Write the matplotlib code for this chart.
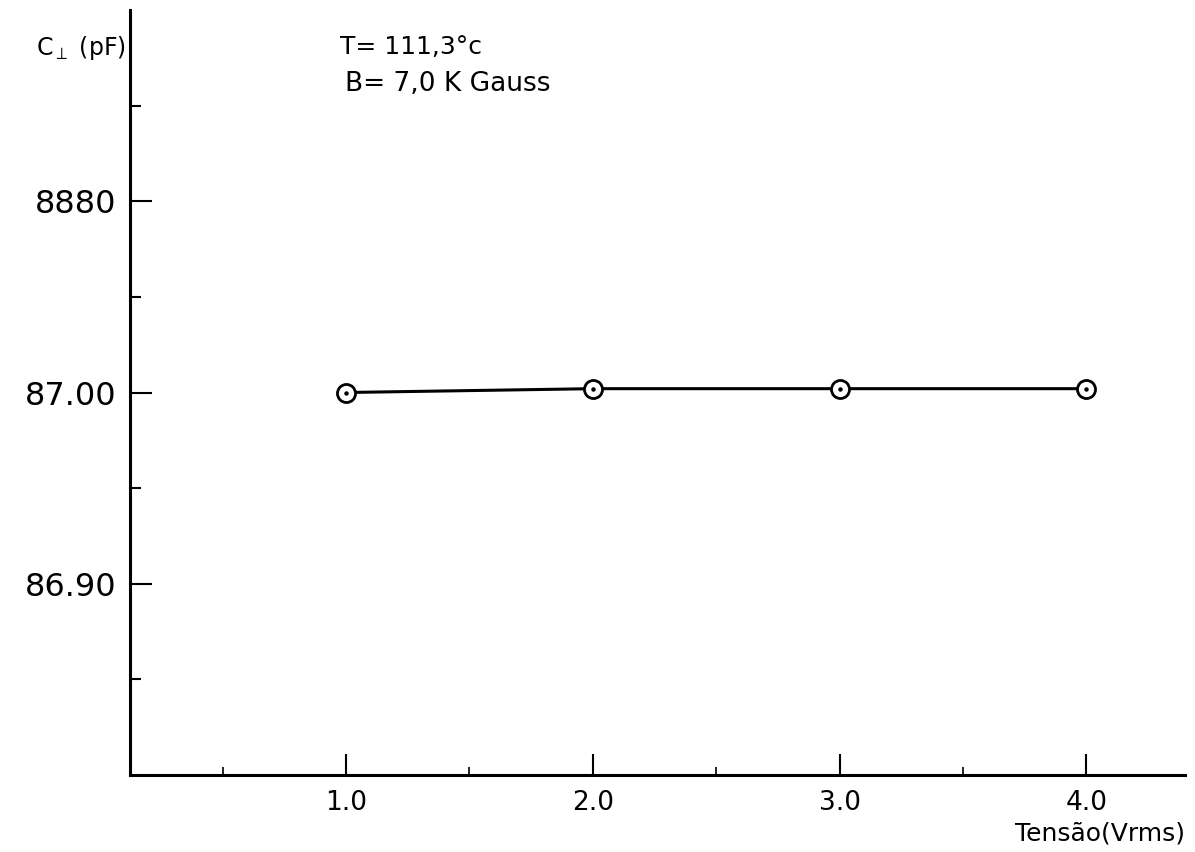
import matplotlib
matplotlib.use("Agg")
import matplotlib.pyplot as plt
from matplotlib.ticker import FixedLocator

# Data
tensao = [1.0, 2.0, 3.0, 4.0]
capacitancia = [87.000, 87.002, 87.002, 87.002]

x_major = [1.0, 2.0, 3.0, 4.0]
x_major_labels = ["1.0", "2.0", "3.0", "4.0"]
x_minor = [0.5, 1.5, 2.5, 3.5]
y_major = [86.90, 87.00, 87.10]
y_major_labels = ["86.90", "87.00", "8880"]
y_minor = [86.85, 86.95, 87.05, 87.15]

plt.rcParams['font.family'] = ['DejaVu Sans']

fig = plt.figure(figsize=(11.95, 8.52), dpi=100)
ax = fig.add_axes([130/1195, 1 - 775/852, (1185 - 130)/1195, (775 - 10)/852])

ax.plot(tensao, capacitancia, color='black', lw=2.2, zorder=2)
ax.plot(tensao, capacitancia, ls='none', marker='o', ms=13, mfc='white',
        mec='black', mew=2.0, zorder=3)
ax.plot(tensao, capacitancia, ls='none', marker='o', ms=2.2, color='black', zorder=4)

ax.set_xlim(0.125, 4.40)
ax.set_ylim(86.80, 87.20)

for s in ['top', 'right']:
    ax.spines[s].set_visible(False)
for s in ['left', 'bottom']:
    ax.spines[s].set_linewidth(2.2)

ax.xaxis.set_major_locator(FixedLocator(x_major))
ax.xaxis.set_minor_locator(FixedLocator(x_minor))
ax.set_xticklabels(x_major_labels)
ax.yaxis.set_major_locator(FixedLocator(y_major))
ax.yaxis.set_minor_locator(FixedLocator(y_minor))
ax.set_yticklabels(y_major_labels)

ax.tick_params(axis='x', which='major', direction='in', length=15, width=1.5,
               labelsize=19, pad=11)
ax.tick_params(axis='x', which='minor', direction='in', length=6, width=1.2)
ax.tick_params(axis='y', which='major', direction='in', length=16, width=1.5,
               labelsize=23, pad=10)
ax.tick_params(axis='y', which='minor', direction='in', length=8, width=1.5)

fig.text(36/1195, 1 - 48/852, "C$_{\\perp}$ (pF)", fontsize=17, ha='left', va='center')
fig.text(340/1195, 1 - 47/852, "T= 111,3°c", fontsize=18, ha='left', va='center')
fig.text(345/1195, 1 - 84/852, "B= 7,0 K Gauss", fontsize=19, ha='left', va='center')
fig.text(1100/1195, 1 - 833/852, "Tensão(Vrms)", fontsize=18, ha='center', va='center')

fig.savefig("out.png", dpi=100)
